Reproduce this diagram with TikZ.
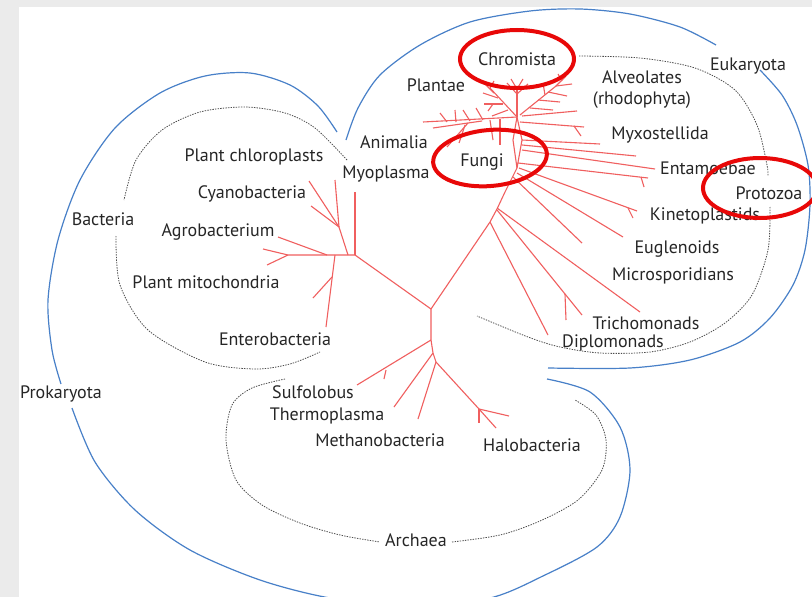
\documentclass[tikz,border=0pt]{standalone}
\usepackage{fontspec}
\setmainfont{PT Sans}
\definecolor{treered}{RGB}{240,95,95}
\definecolor{ringred}{RGB}{232,8,8}
\definecolor{hullblue}{RGB}{72,128,200}
\definecolor{slidegray}{RGB}{235,235,235}
\tikzset{
  twig/.style={draw=treered, line width=1.1pt},
  dotring/.style={draw=black!70, line width=0.8pt, dash pattern=on 1.4pt off 1.2pt},
  hull/.style={draw=hullblue, line width=1.2pt},
  circled/.style={draw=ringred, line width=4pt},
  lbl/.style={text=black!85, font=\fontsize{18}{21}\selectfont, inner sep=0pt, align=center}
}
\begin{document}
\begin{tikzpicture}[x=1pt, y=-1pt]
    \useasboundingbox (0,0) rectangle (812,597);
    \fill[slidegray] (0,0) rectangle (812,597);
    \fill[white] (19,7) rectangle (812,597);
    \begin{scope}
        \clip (19,7) rectangle (812,597);
        \draw[hull] plot[smooth] coordinates {(337,132) (318,106) (290,85) (250,73) (205,76) (160,93) (115,128) (80,180) (58,240) (48,300) (52,350) (61,384)};
        \draw[hull] plot[smooth] coordinates {(72,408) (95,462) (135,510) (190,550) (260,580) (330,598) (410,606) (490,598) (545,575) (597,547) (620,517) (630,470) (620,427) (590,392) (547,379)};
        \draw[hull] plot[smooth] coordinates {(346,140) (358,108) (380,75) (420,45) (470,22) (530,11) (580,9) (630,14) (680,27) (716,45)};
        \draw[hull] plot[smooth] coordinates {(760,70) (782,95) (797,125) (808,165) (810,205) (805,250) (793,285) (770,318) (740,342) (690,360) (630,368) (548,368)};
    \end{scope}
    \draw[dotring] plot[smooth] coordinates {(347,160) (315,128) (285,113) (245,107) (200,112) (162,130) (136,160) (124,200)};
    \draw[dotring] plot[smooth] coordinates {(116,236) (120,285) (148,330) (205,362) (255,369) (290,364) (320,352)};
    \draw[dotring] plot[smooth] coordinates {(579,56) (640,58) (695,68) (735,90) (757,125) (767,165) (768,176)};
    \draw[dotring] plot[smooth] coordinates {(770,207) (768,250) (752,295) (725,323) (690,342) (650,352) (600,353) (560,347) (528,337) (477,316)};
    \draw[dotring] plot[smooth] coordinates {(285,379) (252,388) (232,405) (226,440) (236,480) (262,505) (300,523) (340,535) (380,542)};
    \draw[dotring] plot[smooth] coordinates {(452,542) (500,535) (540,521) (578,500) (602,470) (606,440) (596,415) (575,400)};
    \coordinate (bhub) at (355,255);
    \coordinate (root) at (431,309);
    \coordinate (ahub) at (431,340);
    \coordinate (ehub) at (517,117);
    \draw[twig] (bhub) -- (355,192);
    \draw[twig] (bhub) -- (288,255) -- (263,249);
    \draw[twig] (288,255) -- (267,265);
    \draw[twig] (327,255) -- (278,237);
    \draw[twig] (348,255) -- (339,227) -- (309,181);
    \draw[twig] (339,227) -- (311,206);
    \draw[twig] (339,227) -- (335,180);
    \draw[twig] (335,255) -- (326,327);
    \draw[twig] (332,277) -- (313,298);
    \draw[twig] (bhub) -- (root) -- (ahub) -- (433,353) -- (436,362);
    \draw[twig] (ahub) -- (357,385);
    \draw[twig] (386,370) -- (384,379);
    \draw[twig] (433,353) -- (394,407);
    \draw[twig] (436,362) -- (418,419);
    \draw[twig] (436,362) -- (479,409) -- (509,416);
    \draw[twig] (479,409) -- (496,428);
    \draw[twig] (479,409) -- (479,423);
    \draw[twig] (root) -- (490,222) -- (497,209) -- (505,192) -- (517,168);
    \draw[twig] (517,168) -- (522,140) -- (ehub);
    \draw[twig] (517,168) -- (513,140) -- (ehub);
    \draw[twig] (490,222) -- (548,335);
    \draw[twig] (497,210) -- (582,315);
    \draw[twig] (565,294) -- (566,320);
    \draw[twig] (497,208) -- (640,312);
    \draw[twig] (513,177) -- (582,243);
    \draw[twig] (517,173) -- (623,237);
    \draw[twig] (519,168) -- (637,211);
    \draw[twig] (628,208) -- (633,218);
    \draw[twig] (518,163) -- (648,178);
    \draw[twig] (641,177) -- (644,187);
    \draw[twig] (522,150) -- (655,169);
    \draw[twig] (522,145) -- (636,156);
    \draw[twig] (522,140) -- (600,144);
    \draw[twig] (520,122) -- (584,127);
    \draw[twig] (574,126) -- (581,136);
    \draw[twig] (ehub) -- (517,88);
    \draw[twig] (517,94) -- (507,83);
    \draw[twig] (517,89) -- (511,79);
    \draw[twig] (517,89) -- (523,79);
    \draw[twig] (517,94) -- (528,84);
    \draw[twig] (ehub) -- (490,88);
    \draw[twig] (498,98) -- (483,93);
    \draw[twig] (494,93) -- (485,84);
    \draw[twig] (490,88) -- (494,81);
    \draw[twig] (503,104) -- (484,104);
    \draw[twig] (493,104) -- (488,111);
    \draw[twig] (508,110) -- (492,116);
    \draw[twig] (520,115) -- (556,86) -- (566,76);
    \draw[twig] (556,86) -- (572,84);
    \draw[twig] (545,95) -- (543,83);
    \draw[twig] (538,100) -- (560,102);
    \draw[twig] (548,92) -- (567,96);
    \draw[twig] (530,108) -- (553,110);
    \draw[twig] (522,116) -- (577,111);
    \draw[twig] (562,81) -- (558,74);
    \draw[twig] (ehub) -- (423,122);
    \draw[twig] (482,121) -- (433,128);
    \draw[twig] (468,123) -- (447,147);
    \draw[twig] (465,125) -- (459,143);
    \draw[twig] (490,120) -- (493,140);
    \draw[twig] (500,119) -- (500,145);
    \draw[twig] (470,121) -- (463,110);
    \draw[twig] (483,120) -- (476,108);
    \draw[twig] (447,122) -- (440,113);
    \draw[twig] (456,122) -- (455,110);
    \node[lbl] (chromista) at (517,59) {Chromista};
    \node[lbl] (plantae) at (436,85) {Plantae};
    \node[lbl] (alveolates) at (642,90) {Alveolates\\(rhodophyta)};
    \node[lbl] (eukaryota) at (748,66) {Eukaryota};
    \node[lbl] (animalia) at (394,142) {Animalia};
    \node[lbl] (fungi) at (482,162) {Fungi};
    \node[lbl] (myxostellida) at (660,135) {Myxostellida};
    \node[lbl] (chloroplasts) at (254,157) {Plant chloroplasts};
    \node[lbl] (myoplasma) at (386,174) {Myoplasma};
    \node[lbl] (entamoebae) at (708,168) {Entamoebae};
    \node[lbl] (protozoa) at (769,193) {Protozoa};
    \node[lbl] (cyanobacteria) at (252,194) {Cyanobacteria};
    \node[lbl] (bacteria) at (103,219) {Bacteria};
    \node[lbl] (kinetoplastids) at (705,216) {Kinetoplastids};
    \node[lbl] (agrobacterium) at (218,232) {Agrobacterium};
    \node[lbl] (euglenoids) at (677,249) {Euglenoids};
    \node[lbl] (microsporidians) at (673,276) {Microsporidians};
    \node[lbl] (mitochondria) at (206,282) {Plant mitochondria};
    \node[lbl] (trichomonads) at (646,323) {Trichomonads};
    \node[lbl] (diplomonads) at (613,343) {Diplomonads};
    \node[lbl] (enterobacteria) at (275,339) {Enterobacteria};
    \node[lbl] (prokaryota) at (61,394) {Prokaryota};
    \node[lbl] (sulfolobus) at (313,392) {Sulfolobus};
    \node[lbl] (thermoplasma) at (327,416) {Thermoplasma};
    \node[lbl] (methanobacteria) at (380,440) {Methanobacteria};
    \node[lbl] (halobacteria) at (532,445) {Halobacteria};
    \node[lbl] (archaea) at (416,540) {Archaea};
    \draw[circled] (chromista) ellipse [x radius=57pt, y radius=29pt];
    \draw[circled, rotate around={5:(490,158)}] (490,158) ellipse [x radius=57pt, y radius=28pt];
    \draw[circled] (760,188) ellipse [x radius=57pt, y radius=30pt];
\end{tikzpicture}
\end{document}
